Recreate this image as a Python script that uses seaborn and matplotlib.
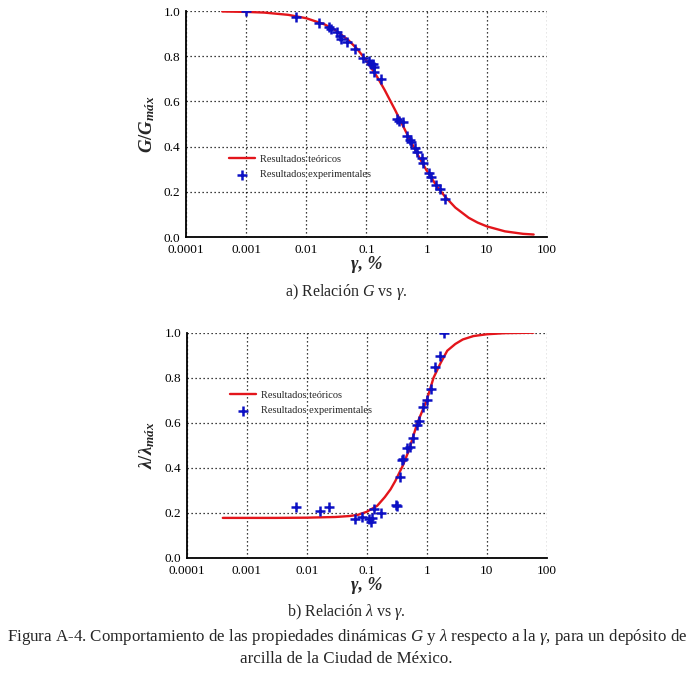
import numpy as np
import pandas as pd
import seaborn as sns
import matplotlib
matplotlib.use("Agg")
import matplotlib.pyplot as plt
from matplotlib.ticker import FuncFormatter, MultipleLocator, LogLocator, NullFormatter, FixedLocator

# curva teorica G/Gmax
g_teo_x = [0.0004, 0.001, 0.002, 0.005, 0.01, 0.02, 0.03, 0.05, 0.07, 0.1, 0.15, 0.2, 0.3,
           0.4, 0.5, 0.7, 1.0, 1.5, 2.0, 3.0, 5.0, 7.0, 10.0, 20.0, 40.0, 60.0]
g_teo_y = [0.998, 0.996, 0.993, 0.983, 0.968, 0.941, 0.916, 0.871, 0.832, 0.780, 0.709, 0.651, 0.561,
           0.494, 0.442, 0.367, 0.294, 0.222, 0.180, 0.130, 0.085, 0.064, 0.047, 0.025, 0.014, 0.011]

# resultados experimentales G/Gmax
g_exp_x = [0.001, 0.0067, 0.0165, 0.024, 0.026, 0.032, 0.036, 0.038, 0.048, 0.065, 0.086, 0.108,
           0.118, 0.127, 0.134, 0.134, 0.176, 0.321, 0.35, 0.398, 0.47, 0.52, 0.548, 0.646, 0.68,
           0.836, 0.88, 1.08, 1.17, 1.43, 1.64, 1.99]
g_exp_y = [1.0, 0.975, 0.945, 0.93, 0.92, 0.905, 0.89, 0.875, 0.865, 0.83, 0.79, 0.778,
           0.765, 0.765, 0.751, 0.73, 0.70, 0.52, 0.515, 0.51, 0.447, 0.43, 0.422, 0.395, 0.378,
           0.348, 0.328, 0.285, 0.267, 0.232, 0.213, 0.167]

# curva teorica lambda/lambda_max
lam_teo_x = [0.0004, 0.001, 0.003, 0.01, 0.03, 0.05, 0.07, 0.1, 0.15, 0.2, 0.25, 0.3, 0.4,
             0.5, 0.7, 1.0, 1.3, 1.7, 2.2, 3.0, 4.0, 6.0, 10.0, 20.0, 60.0]
lam_teo_y = [0.178, 0.178, 0.178, 0.179, 0.182, 0.186, 0.191, 0.205, 0.232, 0.27, 0.305, 0.342, 0.41,
             0.475, 0.60, 0.70, 0.80, 0.865, 0.92, 0.95, 0.97, 0.985, 0.993, 0.998, 1.0]

# resultados experimentales lambda/lambda_max
lam_exp_x = [0.0066, 0.0167, 0.0238, 0.064, 0.083, 0.111, 0.117, 0.124, 0.134, 0.171, 0.31, 0.318,
             0.359, 0.392, 0.405, 0.464, 0.527, 0.60, 0.68, 0.753, 0.877, 1.0, 1.18, 1.37, 1.67, 1.96]
lam_exp_y = [0.225, 0.21, 0.225, 0.172, 0.18, 0.172, 0.161, 0.179, 0.216, 0.201, 0.235, 0.232,
             0.358, 0.435, 0.44, 0.487, 0.494, 0.531, 0.59, 0.61, 0.672, 0.70, 0.75, 0.846, 0.898, 1.0]

x_ticks = [0.0001, 0.001, 0.01, 0.1, 1, 10, 100]
y_ticks = [0.0, 0.2, 0.4, 0.6, 0.8, 1.0]

sns.set_theme(style="white")
plt.rcParams['font.family'] = ['Liberation Serif', 'DejaVu Serif']
plt.rcParams['mathtext.fontset'] = 'custom'
plt.rcParams['mathtext.it'] = 'Liberation Serif:italic:bold'
plt.rcParams['mathtext.rm'] = 'Liberation Serif:bold'
plt.rcParams['mathtext.sf'] = 'Liberation Serif:italic'
plt.rcParams['xtick.color'] = 'black'
plt.rcParams['ytick.color'] = 'black'

red = '#e3151b'
blue = '#0c10c4'

fig = plt.figure(figsize=(6.93, 6.74), dpi=100)
ax1 = fig.add_axes([186 / 693, 1 - 237 / 674, 361 / 693, 226 / 674])
ax2 = fig.add_axes([186.7 / 693, 1 - 558 / 674, 360 / 693, 225.3 / 674])


def style_axes(ax, ylabel, leg_anchor):
    ax.set_xscale('log')
    ax.set_xlim(0.0001, 100)
    ax.set_ylim(0, 1)
    ax.xaxis.set_major_locator(FixedLocator(x_ticks))
    ax.xaxis.set_major_formatter(FuncFormatter(lambda v, _: f'{v:g}'))
    ax.xaxis.set_minor_locator(LogLocator(base=10, subs=np.arange(2, 10), numticks=20))
    ax.xaxis.set_minor_formatter(NullFormatter())
    ax.yaxis.set_major_locator(FixedLocator(y_ticks))
    ax.yaxis.set_major_formatter(FuncFormatter(lambda v, _: f'{v:.1f}'))
    ax.yaxis.set_minor_locator(MultipleLocator(0.04))
    ax.tick_params(which='major', direction='in', length=5, width=1.6, labelsize=9.5, pad=4)
    ax.tick_params(which='minor', direction='in', length=3, width=0.8)
    ax.tick_params(axis='x', which='major', pad=5)
    for s in ['top', 'right']:
        ax.spines[s].set_visible(False)
    for s in ['left', 'bottom']:
        ax.spines[s].set_color('black')
        ax.spines[s].set_linewidth(1.3)
    ax.grid(True, which='major', color='black', linestyle=(0, (1, 2.2)), linewidth=0.9)
    ax.set_axisbelow(True)
    ax.set_xlabel('γ, %', fontsize=13, fontweight='bold', style='italic', labelpad=0)
    ax.set_ylabel(ylabel, fontsize=13.5, labelpad=5)
    ax.legend(loc='upper left', bbox_to_anchor=leg_anchor, frameon=False, fontsize=7.5,
              handlelength=2.5, handletextpad=0.5, labelspacing=0.6, borderpad=0, borderaxespad=0)


sns.lineplot(x=g_teo_x, y=g_teo_y, ax=ax1, color=red, linewidth=1.7, sort=False,
             label='Resultados teóricos')
sns.scatterplot(x=g_exp_x, y=g_exp_y, ax=ax1, marker='+', color=blue, s=55, linewidth=1.8,
                label='Resultados experimentales', zorder=3)
style_axes(ax1, r'$G/G_{máx}$', (0.119, 0.365))

sns.lineplot(x=lam_teo_x, y=lam_teo_y, ax=ax2, color=red, linewidth=1.7, sort=False,
             label='Resultados teóricos')
sns.scatterplot(x=lam_exp_x, y=lam_exp_y, ax=ax2, marker='+', color=blue, s=55, linewidth=1.8,
                label='Resultados experimentales', zorder=3)
style_axes(ax2, r'$λ/λ_{máx}$', (0.12, 0.743))

fig.text(0.499, 1 - 292 / 674, r'a) Relación $\mathsf{G}$ vs $\mathsf{γ}$.', ha='center', va='center', fontsize=11.5)
fig.text(0.499, 1 - 612 / 674, r'b) Relación $\mathsf{λ}$ vs $\mathsf{γ}$.', ha='center', va='center', fontsize=11.5)
fig.text(0.501, 1 - 637 / 674,
         r'Figura A-4. Comportamiento de las propiedades dinámicas $\mathsf{G}$ y $\mathsf{λ}$ respecto a la $\mathsf{γ}$, para un depósito de',
         ha='center', va='center', fontsize=12.2)
fig.text(0.5, 1 - 659 / 674, 'arcilla de la Ciudad de México.', ha='center', va='center', fontsize=12.2)

fig.savefig('out.png', dpi=100)
